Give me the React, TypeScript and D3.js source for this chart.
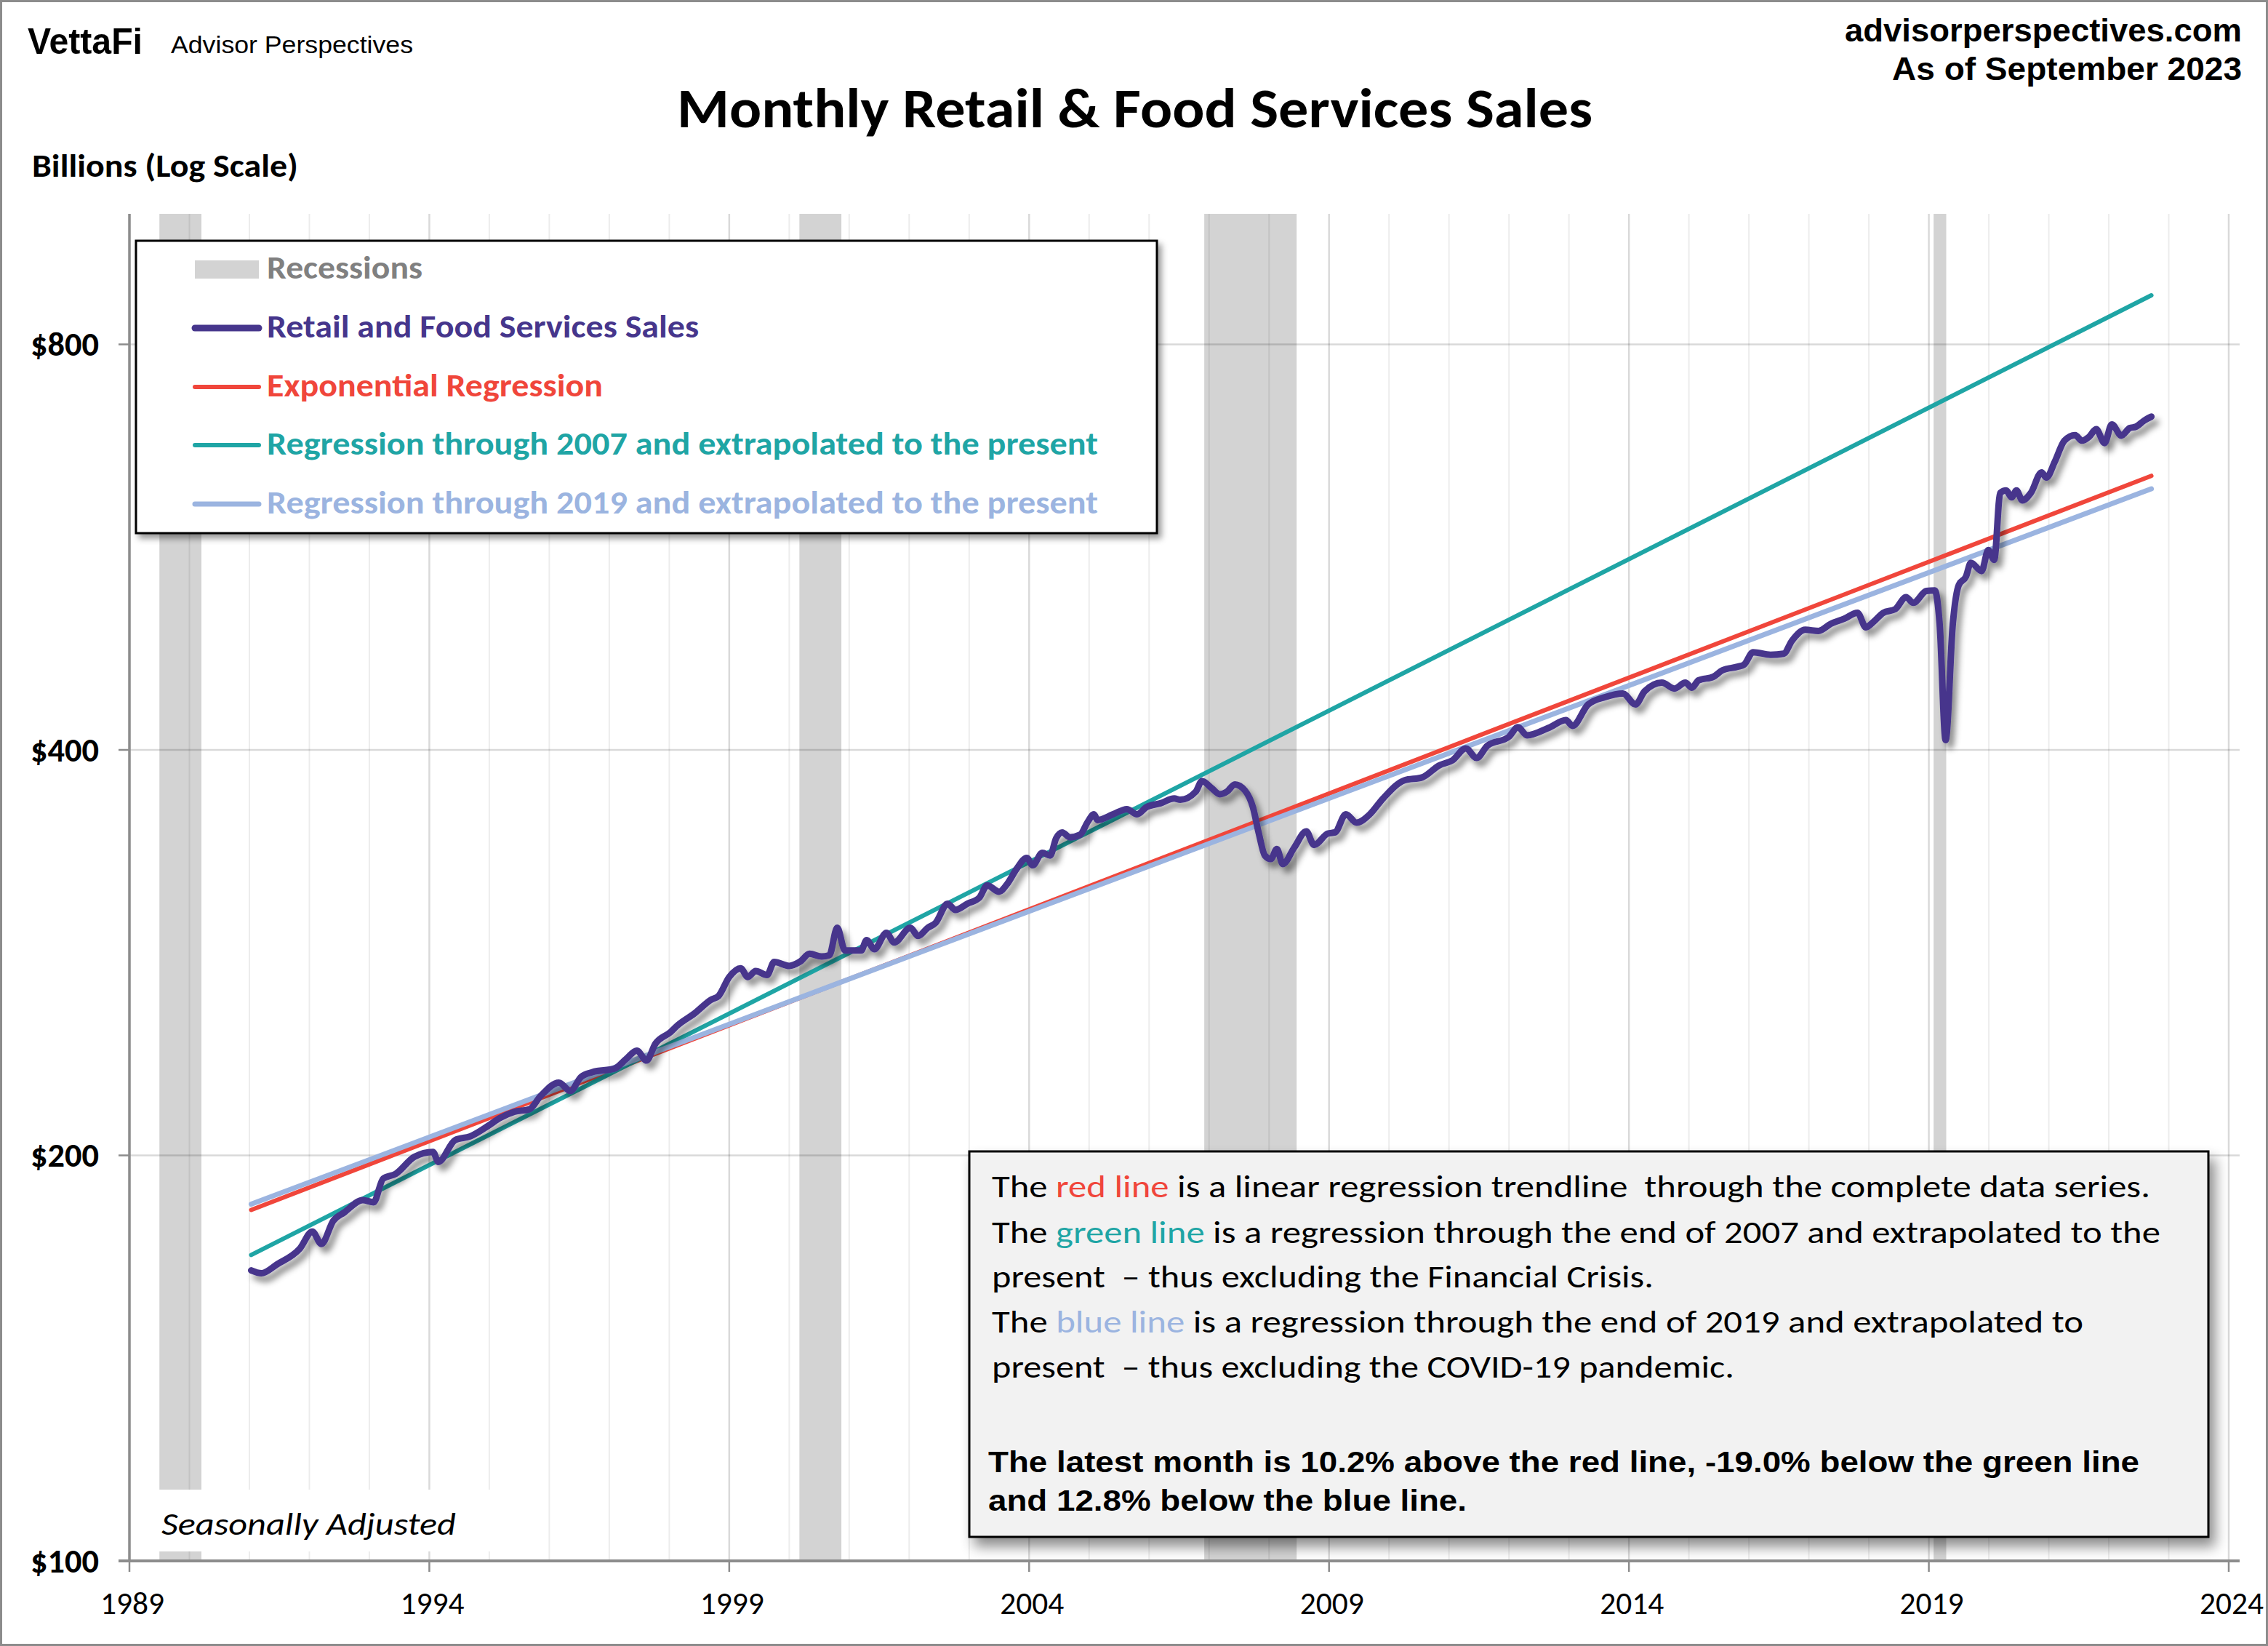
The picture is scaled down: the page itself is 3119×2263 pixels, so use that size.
import React, { useRef, useEffect } from 'react';
import * as d3 from 'd3';

const WIDTH = 3119;
const HEIGHT = 2263;

// Retail & food services sales, billions (decimal year, value)
const retailSales: [number, number][] = [
  [1992.03, 164.3], [1992.2, 163.5], [1992.46, 166.0], [1992.84, 170.5], [1993.05, 175.6], [1993.2, 171.9],
  [1993.4, 178.9], [1993.58, 181.4], [1993.89, 185.3], [1994.07, 184.6], [1994.23, 192.2], [1994.44, 193.8],
  [1994.75, 199.5], [1995.06, 201.2], [1995.15, 197.8], [1995.43, 205.3], [1995.68, 206.6], [1995.99, 210.5],
  [1996.17, 213.1], [1996.42, 215.5], [1996.67, 216.4], [1996.85, 221.2], [1997.16, 226.5], [1997.35, 223.3],
  [1997.53, 228.7], [1997.72, 230.6], [1998.09, 232.0], [1998.28, 235.8], [1998.46, 239.2], [1998.62, 235.2],
  [1998.77, 242.1], [1999.02, 246.9], [1999.14, 249.8], [1999.42, 254.9], [1999.7, 261.0], [1999.82, 262.6],
  [2000.0, 271.3], [2000.19, 275.4], [2000.31, 271.3], [2000.44, 274.1], [2000.63, 272.2], [2000.75, 278.4],
  [2001.0, 276.5], [2001.18, 278.5], [2001.34, 282.3], [2001.54, 281.0], [2001.67, 281.6], [2001.8, 295.1],
  [2001.93, 283.9], [2002.2, 283.9], [2002.29, 289.0], [2002.42, 284.5], [2002.62, 292.6], [2002.75, 287.8],
  [2003.02, 295.1], [2003.15, 291.0], [2003.31, 295.1], [2003.44, 297.6], [2003.64, 307.5], [2003.77, 304.3],
  [2003.97, 307.5], [2004.17, 310.7], [2004.3, 317.3], [2004.5, 313.9], [2004.63, 317.9], [2004.79, 326.3],
  [2004.96, 332.6], [2005.06, 328.4], [2005.22, 335.5], [2005.35, 333.9], [2005.45, 343.9], [2005.55, 347.4],
  [2005.68, 344.5], [2005.85, 346.0], [2005.98, 353.9], [2006.08, 358.3], [2006.14, 354.8], [2006.4, 358.3],
  [2006.63, 361.5], [2006.8, 358.3], [2006.96, 362.8], [2007.19, 365.1], [2007.42, 368.1], [2007.52, 367.3],
  [2007.78, 372.5], [2007.88, 379.3], [2008.04, 374.8], [2008.18, 370.8], [2008.3, 372.5], [2008.43, 377.1],
  [2008.6, 373.1], [2008.73, 362.8], [2008.83, 346.7], [2008.93, 333.9], [2009.03, 331.9], [2009.13, 337.7],
  [2009.23, 329.1], [2009.42, 338.5], [2009.62, 348.0], [2009.75, 340.0], [2009.98, 346.7], [2010.1, 347.4],
  [2010.28, 358.3], [2010.46, 353.2], [2010.68, 358.3], [2010.9, 368.1], [2011.26, 379.8], [2011.55, 381.6],
  [2011.84, 389.6], [2012.06, 393.0], [2012.28, 401.0], [2012.46, 394.5], [2012.64, 402.9], [2013.0, 409.1],
  [2013.15, 415.8], [2013.3, 410.1], [2013.66, 415.3], [2013.95, 420.9], [2014.06, 416.8], [2014.32, 432.3],
  [2014.6, 437.7], [2014.9, 440.4], [2015.11, 432.3], [2015.26, 442.1], [2015.55, 448.7], [2015.76, 444.2],
  [2015.94, 448.7], [2016.05, 444.9], [2016.16, 450.5], [2016.41, 453.3], [2016.56, 458.3], [2016.81, 461.1],
  [2016.92, 462.8], [2017.07, 472.7], [2017.36, 470.6], [2017.58, 471.5], [2017.72, 482.2], [2017.94, 491.2],
  [2018.16, 490.2], [2018.37, 496.3], [2018.59, 500.5], [2018.81, 505.7], [2018.95, 493.2], [2019.08, 498.0],
  [2019.24, 505.6], [2019.44, 508.8], [2019.62, 519.4], [2019.74, 514.3], [2019.96, 524.8], [2020.1, 525.3],
  [2020.18, 496.3], [2020.28, 406.8], [2020.4, 496.3], [2020.5, 530.3], [2020.62, 538.0], [2020.7, 550.8],
  [2020.88, 543.0], [2020.99, 562.8], [2021.09, 553.5], [2021.19, 620.6], [2021.29, 623.2], [2021.38, 616.0],
  [2021.46, 623.2], [2021.56, 612.8], [2021.7, 620.6], [2021.88, 642.8], [2021.96, 637.1], [2022.1, 654.6],
  [2022.26, 678.6], [2022.44, 685.1], [2022.55, 678.6], [2022.67, 683.0], [2022.79, 692.0], [2022.93, 675.8],
  [2023.05, 697.8], [2023.21, 684.5], [2023.35, 693.4], [2023.45, 694.9], [2023.59, 702.3], [2023.71, 707.0],
];

// regression trendlines (start, end)
const regressionAll: [number, number][] = [[1992.03, 182.2], [2023.71, 639]];
const regressionTo2007: [number, number][] = [[1992.03, 168.7], [2023.71, 870]];
const regressionTo2019: [number, number][] = [[1992.03, 184.0], [2023.71, 625]];

const recessions: [number, number][] = [[1990.5, 1991.2], [2001.17, 2001.87], [2007.92, 2009.46], [2020.08, 2020.29]];

const yTicks = [100, 200, 400, 800];
const xTickYears = [1990, 1995, 2000, 2005, 2010, 2015, 2020, 2025];
const xTickLabels = ['1989', '1994', '1999', '2004', '2009', '2014', '2019', '2024'];

const PURPLE = '#46368c';
const RED = '#f0463b';
const TEAL = '#1fa5a5';
const LIGHTBLUE = '#9bb4e0';
const INK = '#000';

const CAL = "Carlito, Calibri, Lato, sans-serif";
const ARIAL = "'Liberation Sans', Arial, sans-serif";

const legendItems = [
  { label: 'Recessions', color: '#808080', kind: 'box', width: 214 },
  { label: 'Retail and Food Services Sales', color: PURPLE, kind: 'line', sw: 9, width: 594 },
  { label: 'Exponential Regression', color: RED, kind: 'line', sw: 6, width: 462 },
  { label: 'Regression through 2007 and extrapolated to the present', color: TEAL, kind: 'line', sw: 6, width: 1143 },
  { label: 'Regression through 2019 and extrapolated to the present', color: LIGHTBLUE, kind: 'line', sw: 7, width: 1143 },
];

const noteLines: { parts: [string, string][]; width: number }[] = [
  { parts: [['The ', INK], ['red line', RED], [' is a linear regression trendline  through the complete data series.', INK]], width: 1593 },
  { parts: [['The ', INK], ['green line', TEAL], [' is a regression through the end of 2007 and extrapolated to the', INK]], width: 1607 },
  { parts: [['present  \u2013 thus excluding the Financial Crisis.', INK]], width: 910 },
  { parts: [['The ', INK], ['blue line', LIGHTBLUE], [' is a regression through the end of 2019 and extrapolated to', INK]], width: 1501 },
  { parts: [['present  \u2013 thus excluding the COVID-19 pandemic.', INK]], width: 1021 },
];
const noteBold = [
  { text: 'The latest month is 10.2% above the red line, -19.0% below the green line', width: 1583 },
  { text: 'and 12.8% below the blue line.', width: 658 },
];

const SalesChart = () => {
  const svgRef = useRef<SVGSVGElement>(null);

  useEffect(() => {
    const svg = d3.select(svgRef.current);
    svg.selectAll('*').remove();

    const left = 178, right = 3065, top = 294, bottom = 2146;

    const x = d3.scaleLinear().domain([1990, 2025]).range([left, right]);
    const y = d3.scaleLog().domain([100, 1000]).range([bottom, top]);

    const defs = svg.append('defs');
    const shadow = (id: string, dx: number, dy: number, sd: number, op: number) =>
      defs.append('filter').attr('id', id)
        .attr('x', '-10%').attr('y', '-10%').attr('width', '130%').attr('height', '140%')
        .append('feDropShadow')
        .attr('dx', dx).attr('dy', dy).attr('stdDeviation', sd)
        .attr('flood-color', '#000').attr('flood-opacity', op);
    shadow('lineShadow', 6, 8, 4, 0.45);
    shadow('legendShadow', 5, 6, 4, 0.4);
    shadow('noteShadow', 8, 12, 9, 0.45);

    // frame
    svg.append('rect')
      .attr('x', 1.5).attr('y', 1.5).attr('width', WIDTH - 3).attr('height', HEIGHT - 3)
      .attr('fill', '#fff').attr('stroke', '#8c8c8c').attr('stroke-width', 3);

    // recession bands
    svg.append('g').selectAll('rect')
      .data(recessions)
      .enter().append('rect')
      .attr('x', d => x(d[0]))
      .attr('y', top)
      .attr('width', d => x(d[1]) - x(d[0]))
      .attr('height', bottom - top)
      .attr('fill', '#d3d3d3');

    // gridlines
    const grid = svg.append('g');
    grid.selectAll('line.minor')
      .data(d3.range(1991, 2026).filter(yr => (yr - 1990) % 5 !== 0))
      .enter().append('line')
      .attr('x1', d => x(d)).attr('x2', d => x(d))
      .attr('y1', top).attr('y2', bottom)
      .attr('stroke', 'rgba(0,0,0,0.075)').attr('stroke-width', 2);
    grid.selectAll('line.major')
      .data(xTickYears)
      .enter().append('line')
      .attr('x1', d => x(d)).attr('x2', d => x(d))
      .attr('y1', top).attr('y2', bottom)
      .attr('stroke', 'rgba(0,0,0,0.15)').attr('stroke-width', 2.5);
    grid.selectAll('line.h')
      .data(yTicks.slice(1))
      .enter().append('line')
      .attr('x1', left).attr('x2', 3080)
      .attr('y1', d => y(d)).attr('y2', d => y(d))
      .attr('stroke', 'rgba(0,0,0,0.15)').attr('stroke-width', 2.5);

    // "Seasonally Adjusted" label box
    svg.append('rect')
      .attr('x', left + 2).attr('y', 2048).attr('width', 535).attr('height', 85)
      .attr('fill', '#fff');
    svg.append('text')
      .attr('x', 222).attr('y', 2110)
      .attr('font-family', CAL).attr('font-style', 'italic').attr('font-size', 44)
      .attr('textLength', 405).attr('lengthAdjust', 'spacingAndGlyphs')
      .text('Seasonally Adjusted');

    // axes
    const axis = svg.append('g').attr('stroke', '#8c8c8c');
    axis.append('line').attr('x1', left).attr('x2', left).attr('y1', top).attr('y2', bottom).attr('stroke-width', 3.5);
    axis.append('line').attr('x1', 163).attr('x2', 3080).attr('y1', bottom).attr('y2', bottom).attr('stroke-width', 4);
    axis.selectAll('line.yt')
      .data(yTicks)
      .enter().append('line')
      .attr('x1', 163).attr('x2', left)
      .attr('y1', d => y(d)).attr('y2', d => y(d))
      .attr('stroke-width', 2.5);
    axis.selectAll('line.xt')
      .data(xTickYears)
      .enter().append('line')
      .attr('x1', d => x(d)).attr('x2', d => x(d))
      .attr('y1', bottom).attr('y2', bottom + 15)
      .attr('stroke-width', 2.5);

    svg.append('g').selectAll('text')
      .data(yTicks)
      .enter().append('text')
      .attr('x', 136).attr('y', d => y(d) + 16)
      .attr('text-anchor', 'end')
      .attr('font-family', CAL).attr('font-weight', 900).attr('font-size', 46)
      .attr('textLength', 94).attr('lengthAdjust', 'spacingAndGlyphs')
      .text(d => `$${d}`);

    svg.append('g').selectAll('text')
      .data(xTickYears)
      .enter().append('text')
      .attr('x', d => x(d) + 4).attr('y', 2219)
      .attr('text-anchor', 'middle')
      .attr('font-family', CAL).attr('font-size', 44)
      .attr('textLength', 88).attr('lengthAdjust', 'spacingAndGlyphs')
      .text((d, i) => xTickLabels[i]);

    // regression lines
    const line = d3.line<[number, number]>()
      .x(d => x(d[0]))
      .y(d => y(d[1]));

    const regs: [[number, number][], string, number][] = [
      [regressionAll, RED, 6],
      [regressionTo2007, TEAL, 6],
      [regressionTo2019, LIGHTBLUE, 7],
    ];
    regs.forEach(([pts, color, sw]) => {
      svg.append('path')
        .datum(pts)
        .attr('fill', 'none')
        .attr('stroke', color)
        .attr('stroke-width', sw)
        .attr('stroke-linecap', 'round')
        .attr('d', line);
    });

    // sales line
    svg.append('path')
      .datum(retailSales)
      .attr('fill', 'none')
      .attr('stroke', PURPLE)
      .attr('stroke-width', 9)
      .attr('stroke-linejoin', 'round')
      .attr('stroke-linecap', 'round')
      .attr('filter', 'url(#lineShadow)')
      .attr('d', line.curve(d3.curveMonotoneX));

    // legend
    const lg = svg.append('g');
    lg.append('rect')
      .attr('x', 187).attr('y', 331).attr('width', 1404).attr('height', 402)
      .attr('fill', '#fff').attr('stroke', '#000').attr('stroke-width', 3)
      .attr('filter', 'url(#legendShadow)');
    const rowBase = [383, 464, 545, 625, 706];
    legendItems.forEach((item, i) => {
      const base = rowBase[i];
      if (item.kind === 'box') {
        lg.append('rect').attr('x', 268).attr('y', base - 25).attr('width', 88).attr('height', 25).attr('fill', '#d3d3d3');
      } else {
        lg.append('line')
          .attr('x1', 268).attr('x2', 356).attr('y1', base - 13).attr('y2', base - 13)
          .attr('stroke', item.color).attr('stroke-width', item.sw).attr('stroke-linecap', 'round');
      }
      lg.append('text')
        .attr('x', 367).attr('y', base)
        .attr('fill', item.color)
        .attr('font-family', CAL).attr('font-weight', 'bold').attr('font-size', 44)
        .attr('textLength', item.width).attr('lengthAdjust', 'spacingAndGlyphs')
        .text(item.label);
    });

    // note box
    const nb = svg.append('g');
    nb.append('rect')
      .attr('x', 1333).attr('y', 1583).attr('width', 1704).attr('height', 530)
      .attr('fill', '#f2f2f2').attr('stroke', '#000').attr('stroke-width', 3)
      .attr('filter', 'url(#noteShadow)');
    const noteBase = [1646, 1709, 1770, 1832, 1894];
    noteLines.forEach((ln, i) => {
      const t = nb.append('text')
        .attr('x', 1364).attr('y', noteBase[i])
        .attr('font-family', CAL).attr('font-size', 44)
        .attr('textLength', ln.width).attr('lengthAdjust', 'spacingAndGlyphs')
        .style('white-space', 'pre');
      ln.parts.forEach(([s, c]) => t.append('tspan').attr('fill', c).text(s));
    });
    const boldBase = [2024, 2077];
    noteBold.forEach((b, i) => {
      nb.append('text')
        .attr('x', 1359).attr('y', boldBase[i])
        .attr('font-family', ARIAL).attr('font-weight', 'bold').attr('font-size', 41)
        .attr('textLength', b.width).attr('lengthAdjust', 'spacingAndGlyphs')
        .text(b.text);
    });

    // header texts
    svg.append('text')
      .attr('x', 38).attr('y', 74)
      .attr('font-family', ARIAL).attr('font-weight', 'bold').attr('font-size', 50)
      .attr('textLength', 158).attr('lengthAdjust', 'spacingAndGlyphs')
      .text('VettaFi');
    svg.append('text')
      .attr('x', 235).attr('y', 73)
      .attr('font-family', ARIAL).attr('font-size', 33)
      .attr('textLength', 333).attr('lengthAdjust', 'spacingAndGlyphs')
      .text('Advisor Perspectives');
    svg.append('text')
      .attr('x', 44).attr('y', 243)
      .attr('font-family', CAL).attr('font-weight', 'bold').attr('font-size', 44)
      .attr('textLength', 366).attr('lengthAdjust', 'spacingAndGlyphs')
      .text('Billions (Log Scale)');
    svg.append('text')
      .attr('x', 931).attr('y', 175)
      .attr('font-family', CAL).attr('font-weight', 'bold').attr('font-size', 76)
      .attr('textLength', 1259).attr('lengthAdjust', 'spacingAndGlyphs')
      .text('Monthly Retail & Food Services Sales');
    svg.append('text')
      .attr('x', 3083).attr('y', 57)
      .attr('text-anchor', 'end')
      .attr('font-family', ARIAL).attr('font-weight', 'bold').attr('font-size', 44)
      .attr('textLength', 546).attr('lengthAdjust', 'spacingAndGlyphs')
      .text('advisorperspectives.com');
    svg.append('text')
      .attr('x', 3083).attr('y', 110)
      .attr('text-anchor', 'end')
      .attr('font-family', ARIAL).attr('font-weight', 'bold').attr('font-size', 44)
      .attr('textLength', 481).attr('lengthAdjust', 'spacingAndGlyphs')
      .text('As of September 2023');
  }, []);

  return (
    <svg ref={svgRef} width={WIDTH} height={HEIGHT}
      style={{ position: 'absolute', left: 0, top: 0, background: '#fff' }} />
  );
};

export default function App() {
  return <SalesChart />;
}
